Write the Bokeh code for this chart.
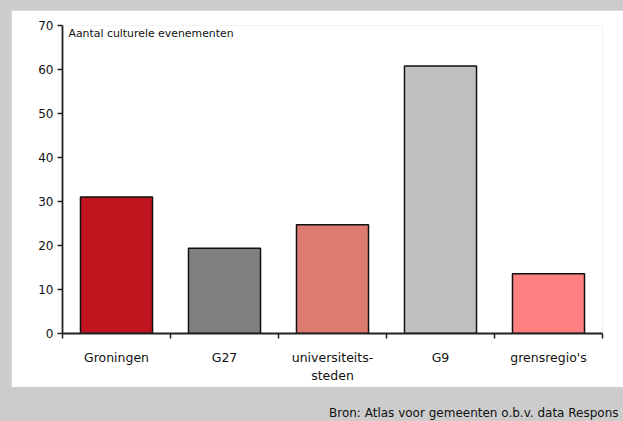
from bokeh.plotting import figure
from bokeh.models import Range1d, FixedTicker, Label, Div, ColumnDataSource
from bokeh.layouts import column
from bokeh.embed import file_html
from bokeh.resources import INLINE

# ---- data ----
categories = ["Groningen", "G27", "universiteits-\nsteden", "G9", "grensregio's"]
values = [31.0, 19.4, 24.7, 60.8, 13.6]
colors = ["#C1141E", "#808080", "#DE7B70", "#C0C0C0", "#FF8080"]
y_ticks = [0, 10, 20, 30, 40, 50, 60, 70]
y_title = "Aantal culturele evenementen"
source_text = "Bron: Atlas voor gemeenten o.b.v. data Respons"

FONT = "DejaVu Sans"

x_pos = [i + 0.5 for i in range(len(categories))]
src = ColumnDataSource(dict(x=x_pos, top=values, color=colors))

p = figure(width=612, height=377,
           x_range=Range1d(0, len(categories)), y_range=Range1d(0, 70),
           output_backend="svg", toolbar_location=None,
           min_border_left=51, min_border_right=21,
           min_border_top=15, min_border_bottom=54)
p.margin = (10, 0, 0, 11)
p.background_fill_color = "white"
p.border_fill_color = "white"
p.outline_line_color = None
p.xgrid.visible = False
p.ygrid.visible = False

p.vbar(x="x", top="top", bottom=0, width=0.667, fill_color="color",
       line_color="#111111", line_width=1.5, source=src)

# x axis: category labels at centres, tick marks at boundaries
xa = p.xaxis[0]
xa.ticker = FixedTicker(ticks=x_pos, minor_ticks=list(range(len(categories) + 1)))
xa.major_label_overrides = {x: c for x, c in zip(x_pos, categories)}
xa.major_tick_line_color = None
xa.minor_tick_in = 0
xa.minor_tick_out = 5
xa.minor_tick_line_color = "#222222"
xa.minor_tick_line_width = 1.5
xa.axis_line_color = "#222222"
xa.axis_line_width = 1.8
xa.major_label_standoff = 10
xa.major_label_text_font = FONT
xa.major_label_text_font_size = "12.5px"
xa.major_label_text_color = "#111111"

ya = p.yaxis[0]
ya.ticker = FixedTicker(ticks=y_ticks, minor_ticks=[])
ya.major_tick_in = 0
ya.major_tick_out = 5
ya.major_tick_line_color = "#222222"
ya.major_tick_line_width = 1.5
ya.minor_tick_line_color = None
ya.axis_line_color = "#222222"
ya.axis_line_width = 1.8
ya.major_label_standoff = 4
ya.major_label_text_font = FONT
ya.major_label_text_font_size = "12px"
ya.major_label_text_color = "#111111"

p.add_layout(Label(x=0.055, y=68.2, text=y_title, text_font=FONT,
                   text_font_size="10.9px", text_baseline="middle",
                   text_color="#111111"))

bottom = Div(
    text=('<div style="padding:13px 0 0 324px;white-space:nowrap;'
          'font-family:\'DejaVu Sans\';font-size:12px;color:#111;">'
          + source_text + '</div>'),
    width=623, height=31,
    styles={"background-color": "#cccccc", "overflow": "hidden"})

layout = column(p, bottom, styles={"background-color": "#cccccc"})

open("out.html", "w").write(file_html(layout, INLINE, title="chart"))
